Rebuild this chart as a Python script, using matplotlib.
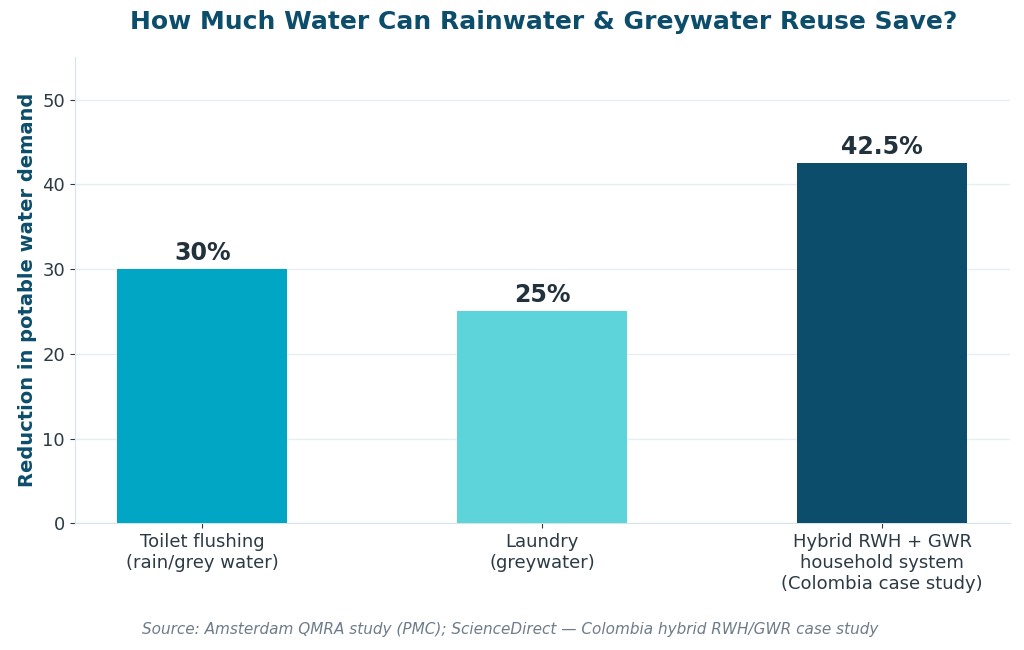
import matplotlib.pyplot as plt

plt.rcParams['font.family'] = ['DejaVu Sans']

# DATA
categories = ['Toilet flushing\n(rain/grey water)', 'Laundry\n(greywater)',
              'Hybrid RWH + GWR\nhousehold system\n(Colombia case study)']
reductions = [30, 25, 42.5]
valueLabels = ['30%', '25%', '42.5%']
barColors = ['#00A6C4', '#5DD3DA', '#0B4D6B']

titleColor = '#0B4D6B'
textColor = '#2B3A44'
lineColor = '#D6E3E8'

fig = plt.figure(figsize=(10.24, 6.5), dpi=100)
ax = fig.add_axes([0.073, 0.195, 0.913, 0.717])

bars = ax.bar(range(len(categories)), reductions, width=0.5, color=barColors, zorder=3)
for bar, label in zip(bars, valueLabels):
    ax.annotate(label, (bar.get_x() + bar.get_width() / 2, bar.get_height()),
                xytext=(0, 3), textcoords='offset points', ha='center', va='bottom',
                fontsize=17, fontweight='bold', color='#22323C')

ax.set_ylim(0, 55)
ax.set_yticks(range(0, 51, 10))
ax.set_xticks(range(len(categories)))
ax.set_xticklabels(categories, fontsize=13, color=textColor)
ax.tick_params(axis='y', labelsize=13, labelcolor=textColor, color=textColor)
ax.tick_params(axis='x', color=textColor)
ax.grid(axis='y', color='#E6EEF1', lw=1, zorder=0)
for side in ['top', 'right']:
    ax.spines[side].set_visible(False)
for side in ['left', 'bottom']:
    ax.spines[side].set_color(lineColor)

ax.set_ylabel('Reduction in potable water demand', fontsize=14, fontweight='bold', color=titleColor)
fig.suptitle('How Much Water Can Rainwater & Greywater Reuse Save?', x=0.531, y=0.985,
             fontsize=18, fontweight='bold', color=titleColor)
fig.text(0.498, 0.025, 'Source: Amsterdam QMRA study (PMC); ScienceDirect \u2014 Colombia hybrid RWH/GWR case study',
         ha='center', fontsize=11, style='italic', color='#6E7C8A')

fig.savefig('out.png', dpi=100)
